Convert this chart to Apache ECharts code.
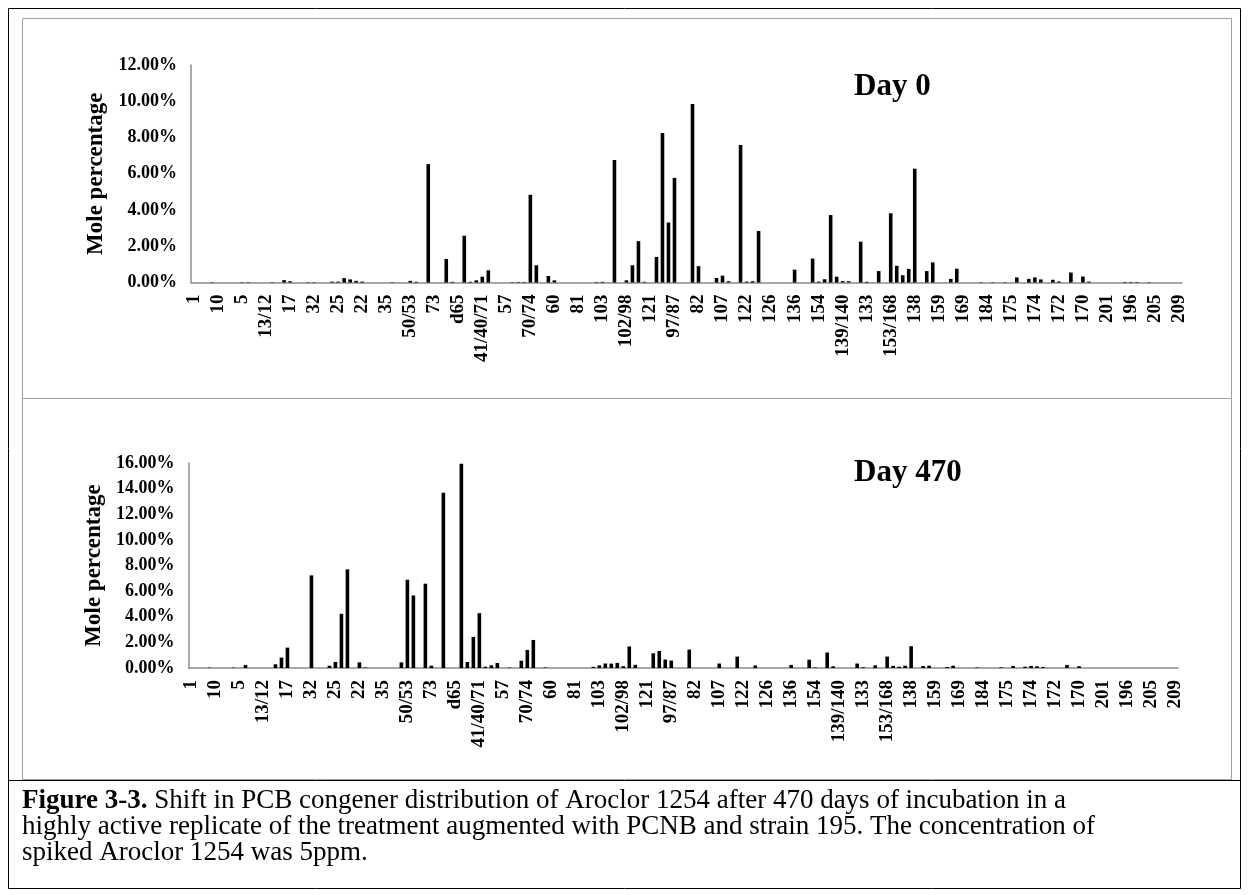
<!DOCTYPE html>
<html>
<head>
<meta charset="utf-8">
<title>PCB congener distribution, Aroclor 1254</title>
<script src="https://cdn.jsdelivr.net/npm/echarts@6/dist/echarts.min.js"></script>
<style>
  html, body { margin: 0; padding: 0; background: #fff; }
  #chart { width: 1249px; height: 895px; }
</style>
</head>
<body>
<div id="chart"></div>
<script>
// PCB congeners in elution order (every fourth one is printed on the axis)
const categories = [
  '1', '2', '3', '4',
  '10', '7/9', '6', '8',
  '5', '19', '30', '18',
  '13/12', '15', '27', '24',
  '17', '16', '29', '26',
  '32', '31', '28', '20',
  '25', '21', '33', '51',
  '22', '45', '46', '52',
  '35', '49', '47/48', '44',
  '50/53', '37', '42', '59',
  '73', '64', '72', '68',
  'd65', '66', '55', '56',
  '41/40/71', '63', '61', '76',
  '57', '58', '67', '100',
  '70/74', '95', '91', '92',
  '60', '84', '89', '90',
  '81', '101', '113', '99',
  '103', '119', '83', '112',
  '102/98', '86', '117', '125',
  '121', '116', '85', '110',
  '97/87', '115', '111', '120',
  '82', '151', '135', '144',
  '107', '147', '124', '149',
  '122', '123', '118', '134',
  '126', '114', '131', '165',
  '136', '146', '161', '132',
  '154', '105', '141', '130',
  '139/140', '137', '164', '163',
  '133', '176', '160', '158',
  '153/168', '129', '178', '166',
  '138', '187', '183', '128',
  '159', '167', '185', '162',
  '169', '157', '197', '181',
  '184', '177', '171', '156',
  '175', '173', '202', '200',
  '174', '204', '190', '199',
  '172', '180', '193', '191',
  '170', '189', '198', '203',
  '201', '195', '208', '207',
  '196', '194', '206', '186',
  '205', '188', '179', '192',
  '209'
];

// Mole percentage of each congener, Day 0
const day0 = [
  0, 0, 0, 0.02, 0, 0, 0, 0, 0.02, 0.02,
  0, 0, 0, 0.02, 0, 0.13, 0.07, 0, 0, 0.02,
  0.02, 0, 0, 0.05, 0.05, 0.24, 0.17, 0.09, 0.05, 0,
  0, 0, 0, 0.02, 0, 0, 0.09, 0.04, 0, 6.53,
  0, 0, 1.30, 0.04, 0, 2.58, 0.04, 0.12, 0.32, 0.67,
  0, 0, 0, 0.02, 0.03, 0.03, 4.84, 0.95, 0, 0.36,
  0.12, 0, 0, 0, 0, 0, 0, 0.03, 0.04, 0,
  6.76, 0, 0.12, 0.95, 2.28, 0.04, 0, 1.41, 8.25, 3.31,
  5.77, 0, 0, 9.85, 0.90, 0, 0, 0.25, 0.38, 0.07,
  0, 7.59, 0.05, 0.07, 2.84, 0, 0, 0, 0, 0,
  0.71, 0, 0, 1.32, 0.05, 0.18, 3.72, 0.32, 0.08, 0.07,
  0, 2.25, 0.04, 0, 0.63, 0, 3.82, 0.92, 0.40, 0.75,
  6.28, 0, 0.63, 1.11, 0, 0, 0.20, 0.76, 0, 0,
  0, 0.02, 0, 0.02, 0, 0.02, 0, 0.28, 0, 0.20,
  0.28, 0.17, 0, 0.15, 0.06, 0, 0.55, 0, 0.33, 0.05,
  0, 0, 0, 0, 0, 0.03, 0.03, 0.03, 0, 0.02,
  0, 0, 0, 0, 0
];

// Mole percentage of each congener, Day 470
const day470 = [
  0, 0, 0, 0.03, 0, 0, 0, 0.03, 0, 0.23,
  0, 0, 0, 0, 0.29, 0.81, 1.59, 0, 0, 0,
  7.23, 0, 0, 0.18, 0.47, 4.23, 7.70, 0, 0.44, 0.04,
  0, 0, 0, 0, 0, 0.44, 6.89, 5.66, 0, 6.58,
  0.18, 0, 13.68, 0, 0, 15.95, 0.47, 2.43, 4.28, 0.10,
  0.21, 0.39, 0, 0.03, 0, 0.57, 1.41, 2.19, 0, 0.04,
  0, 0, 0, 0, 0, 0, 0, 0.09, 0.21, 0.35,
  0.34, 0.40, 0.14, 1.68, 0.25, 0, 0, 1.15, 1.33, 0.66,
  0.58, 0, 0, 1.44, 0, 0, 0, 0, 0.35, 0,
  0, 0.89, 0, 0, 0.20, 0, 0, 0, 0, 0,
  0.24, 0, 0, 0.65, 0.04, 0, 1.21, 0.13, 0, 0,
  0, 0.35, 0.06, 0, 0.21, 0, 0.89, 0.17, 0.10, 0.18,
  1.70, 0, 0.16, 0.18, 0, 0, 0.08, 0.18, 0, 0,
  0, 0.04, 0, 0, 0, 0.05, 0, 0.16, 0, 0.10,
  0.16, 0.13, 0.08, 0, 0, 0, 0.24, 0, 0.14, 0,
  0, 0, 0, 0, 0, 0, 0, 0, 0, 0,
  0, 0, 0, 0, 0
];

// y-axis ranges (percent): min, max, step
const yRangeDay0 = [0, 12, 2];
const yRangeDay470 = [0, 16, 2];

const panelTitles = ['Day 0', 'Day 470'];
const yAxisTitle = 'Mole percentage';
const captionBold = 'Figure 3-3.';
const captionLines = [
  ' Shift in PCB congener distribution of Aroclor 1254 after 470 days of incubation in a',
  'highly active replicate of the treatment augmented with PCNB and strain 195. The concentration of',
  'spiked Aroclor 1254 was 5ppm.'
];

const FONT = '"Liberation Serif", "Times New Roman", serif';
const AXIS_GREY = '#8c8c8c';
const CAPTION_SIZE = 27;

function xAxisFor(gridIndex) {
  return {
    type: 'category',
    gridIndex: gridIndex,
    data: categories,
    boundaryGap: true,
    axisLine: { show: true, lineStyle: { color: AXIS_GREY, width: 1.5 } },
    axisTick: { show: false },
    splitLine: { show: false },
    axisLabel: {
      interval: 3,
      rotate: 90,
      margin: 12,
      color: '#000',
      fontFamily: FONT,
      fontWeight: 'bold',
      fontSize: 19
    }
  };
}

function yAxisFor(gridIndex, range) {
  return {
    type: 'value',
    gridIndex: gridIndex,
    min: range[0],
    max: range[1],
    interval: range[2],
    axisLine: { show: true, lineStyle: { color: AXIS_GREY, width: 1.5 } },
    axisTick: { show: false },
    splitLine: { show: false },
    axisLabel: {
      margin: 14,
      color: '#000',
      fontFamily: FONT,
      fontWeight: 'bold',
      fontSize: 18,
      formatter: function (v) { return v.toFixed(2) + '%'; }
    },
    name: yAxisTitle,
    nameLocation: 'middle',
    nameGap: 82,
    nameTextStyle: {
      color: '#000',
      fontFamily: FONT,
      fontWeight: 'bold',
      fontSize: 23
    }
  };
}

function barSeries(index, values) {
  return {
    type: 'bar',
    xAxisIndex: index,
    yAxisIndex: index,
    data: values,
    barWidth: 3.6,
    silent: true,
    itemStyle: { color: '#000' }
  };
}

const chart = echarts.init(document.getElementById('chart'), null, { renderer: 'canvas' });

chart.setOption({
  backgroundColor: '#fff',
  animation: false,
  grid: [
    { left: 191, top: 65, width: 991, height: 217.5 },
    { left: 188.5, top: 463, width: 989.5, height: 205 }
  ],
  xAxis: [xAxisFor(0), xAxisFor(1)],
  yAxis: [yAxisFor(0, yRangeDay0), yAxisFor(1, yRangeDay470)],
  series: [barSeries(0, day0), barSeries(1, day470)],
  graphic: [
    // outer figure frame
    { type: 'rect', shape: { x: 8.5, y: 8.5, width: 1232, height: 880 },
      style: { fill: 'none', stroke: '#000', lineWidth: 1 }, silent: true },
    // chart panel frames
    { type: 'rect', shape: { x: 22.5, y: 18.5, width: 1209, height: 380 },
      style: { fill: 'none', stroke: '#a0a0a0', lineWidth: 1 }, silent: true },
    { type: 'rect', shape: { x: 22.5, y: 398.5, width: 1209, height: 381 },
      style: { fill: 'none', stroke: '#a0a0a0', lineWidth: 1 }, silent: true },
    // caption separator
    { type: 'line', shape: { x1: 8.5, y1: 780.5, x2: 1240.5, y2: 780.5 },
      style: { stroke: '#000', lineWidth: 1 }, silent: true },
    // panel titles
    { type: 'text', x: 854, y: 87, silent: true,
      style: { text: panelTitles[0], fill: '#000', font: 'bold 31px ' + FONT, verticalAlign: 'middle' } },
    { type: 'text', x: 854, y: 473, silent: true,
      style: { text: panelTitles[1], fill: '#000', font: 'bold 31px ' + FONT, verticalAlign: 'middle' } },
    // caption
    { type: 'text', x: 22, y: 801, silent: true,
      style: {
        text: '{b|' + captionBold + '}' + captionLines[0],
        fill: '#000', font: CAPTION_SIZE + 'px ' + FONT, verticalAlign: 'middle',
        rich: { b: { fontWeight: 'bold', fontSize: CAPTION_SIZE, fontFamily: FONT, fill: '#000' } }
      } },
    { type: 'text', x: 22, y: 827, silent: true,
      style: { text: captionLines[1], fill: '#000', font: CAPTION_SIZE + 'px ' + FONT, verticalAlign: 'middle' } },
    { type: 'text', x: 22, y: 853, silent: true,
      style: { text: captionLines[2], fill: '#000', font: CAPTION_SIZE + 'px ' + FONT, verticalAlign: 'middle' } }
  ]
});
</script>
</body>
</html>
